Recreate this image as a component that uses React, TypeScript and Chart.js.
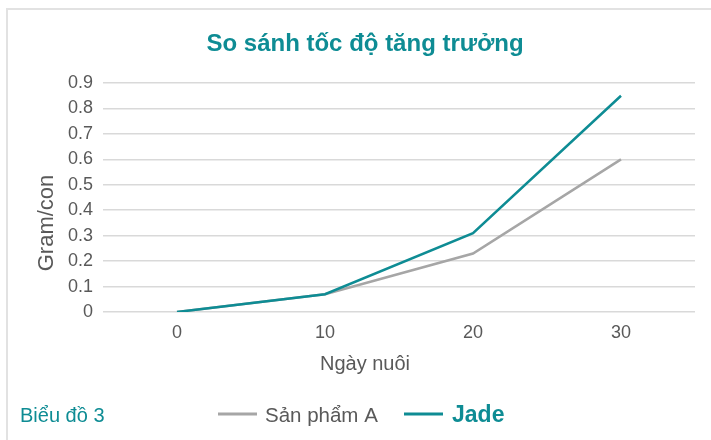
import React, { useEffect, useRef } from "react";
import { Chart, registerables } from "chart.js";

Chart.register(...registerables);

const DAYS = ["0", "10", "20", "30"];
const PRODUCT_A = [0, 0.07, 0.23, 0.6];
const JADE = [0, 0.07, 0.31, 0.85];
const Y_TICK_LABELS = ["0", "0.1", "0.2", "0.3", "0.4", "0.5", "0.6", "0.7", "0.8", "0.9"];
const SERIES_NAMES = ["Sản phẩm A", "Jade"];
const TITLE = "So sánh tốc độ tăng trưởng";
const Y_TITLE = "Gram/con";
const X_TITLE = "Ngày nuôi";
const CAPTION = "Biểu đồ 3";

const TEAL = "#0E8C94";
const GRAY_LINE = "#A6A6A6";
const TEXT_GRAY = "#595959";
const FONT = "'Liberation Sans', Arial, Helvetica, sans-serif";

const textPlugin = {
  id: "textPlugin",
  afterDraw(chart: any) {
    const ctx = chart.ctx;
    const area = chart.chartArea;
    ctx.save();
    // title
    ctx.fillStyle = TEAL;
    ctx.font = `bold 24px ${FONT}`;
    ctx.textAlign = "center";
    ctx.textBaseline = "alphabetic";
    ctx.fillText(TITLE, 365, 51);

    // x title
    ctx.fillStyle = TEXT_GRAY;
    ctx.font = `20px ${FONT}`;
    ctx.fillText(X_TITLE, 365, area.bottom + 58);

    // y title
    ctx.save();
    ctx.translate(53, 223);
    ctx.rotate(-Math.PI / 2);
    ctx.font = `22px ${FONT}`;
    ctx.fillText(Y_TITLE, 0, 0);
    ctx.restore();

    // caption
    ctx.textAlign = "left";
    ctx.fillStyle = TEAL;
    ctx.font = `20px ${FONT}`;
    ctx.fillText(CAPTION, 20, 422);

    // legend
    const ds = chart.data.datasets;
    const items = [
      { i: 0, x0: 218, x1: 257, tx: 265, font: `20.5px ${FONT}`, color: TEXT_GRAY },
      { i: 1, x0: 404, x1: 443, tx: 452, font: `bold 23px ${FONT}`, color: TEAL },
    ];
    for (const it of items) {
      ctx.strokeStyle = ds[it.i].borderColor;
      ctx.lineWidth = 3;
      ctx.beginPath();
      ctx.moveTo(it.x0, 414);
      ctx.lineTo(it.x1, 414);
      ctx.stroke();
      ctx.fillStyle = it.color;
      ctx.font = it.font;
      ctx.fillText(ds[it.i].label, it.tx, 422);
    }
    ctx.restore();
  },
};

export default function App() {
  const ref = useRef<HTMLCanvasElement | null>(null);
  useEffect(() => {
    if (!ref.current) return;
    const chart = new Chart(ref.current, {
      type: "line",
      data: {
        labels: DAYS,
        datasets: [
          {
            label: SERIES_NAMES[0],
            data: PRODUCT_A,
            borderColor: GRAY_LINE,
            backgroundColor: GRAY_LINE,
            borderWidth: 2.5,
            pointRadius: 0,
            tension: 0,
            order: 1,
          },
          {
            label: SERIES_NAMES[1],
            data: JADE,
            borderColor: TEAL,
            backgroundColor: TEAL,
            borderWidth: 2.5,
            pointRadius: 0,
            tension: 0,
            order: 0,
          },
        ],
      },
      options: {
        responsive: false,
        animation: false,
        layout: { padding: { left: 0, top: 83, right: 16, bottom: 0 } },
        plugins: {
          legend: { display: false },
          title: { display: false },
          tooltip: { enabled: false },
        },
        scales: {
          x: {
            type: "category",
            offset: true,
            grid: { display: false, drawTicks: false },
            border: { display: false },
            ticks: {
              color: TEXT_GRAY,
              font: { family: FONT, size: 18 },
              padding: 10,
              maxRotation: 0,
            },
            afterFit(scale: any) {
              scale.height = 128;
            },
          },
          y: {
            min: 0,
            max: 0.9,
            grid: { color: "#D9D9D9", lineWidth: 1.5, drawTicks: false },
            border: { display: false },
            ticks: {
              stepSize: 0.1,
              color: TEXT_GRAY,
              font: { family: FONT, size: 18 },
              padding: 10,
              callback: (_v: any, i: number) => Y_TICK_LABELS[i],
            },
            afterFit(scale: any) {
              scale.width = 103;
            },
          },
        },
      },
      plugins: [textPlugin],
    });
    return () => chart.destroy();
  }, []);

  return (
    <div style={{ position: "fixed", left: 0, top: 0, width: 711, height: 440, background: "#fff" }}>
      <div
        style={{
          position: "absolute",
          left: 6,
          top: 8,
          right: 0,
          bottom: 0,
          borderTop: "2px solid #E2E2E2",
          borderLeft: "2px solid #E2E2E2",
        }}
      />
      <canvas ref={ref} width={711} height={440} style={{ position: "absolute", left: 0, top: 0, display: "block" }} />
    </div>
  );
}
